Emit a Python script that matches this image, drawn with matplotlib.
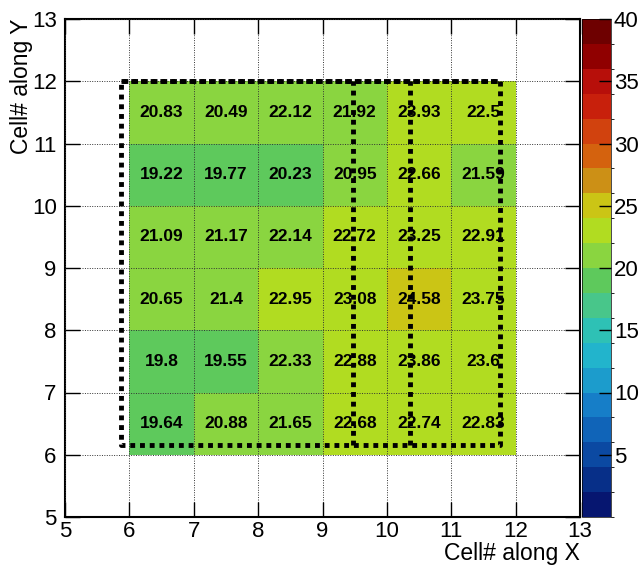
import matplotlib.pyplot as plt
import matplotlib.colors as mcolors
import matplotlib.cm as cm
import numpy as np

plt.rcParams['font.family'] = ['Liberation Sans', 'DejaVu Sans']

# cell centres along x (columns) and y (rows, bottom to top)
x_cells = [6, 7, 8, 9, 10, 11]
y_cells = [6, 7, 8, 9, 10, 11]

# values per row, bottom row (y=6) first
row_6 = [19.64, 20.88, 21.65, 22.68, 22.74, 22.83]
row_7 = [19.8, 19.55, 22.33, 22.88, 23.86, 23.6]
row_8 = [20.65, 21.4, 22.95, 23.08, 24.58, 23.75]
row_9 = [21.09, 21.17, 22.14, 22.72, 23.25, 22.91]
row_10 = [19.22, 19.77, 20.23, 20.95, 22.66, 21.59]
row_11 = [20.83, 20.49, 22.12, 21.92, 23.93, 22.5]

# palette bands from 0 to 40, bottom to top
band_colors = ["#061670", "#072f88", "#0b49a2", "#1064b8", "#167ec8",
               "#1c9ccc", "#22b4cc", "#2ec1b5", "#48c68a", "#5ec95c",
               "#8ad540", "#b1dc21", "#cbc515", "#cc9016", "#d4620e",
               "#d1420e", "#c8200c", "#b70f0a", "#900000", "#6e0000"]
z_min, z_max = 0, 40
cbar_ticks = [5, 10, 15, 20, 25, 30, 35, 40]

# dotted outline: x-left, x-right, y-bottom, y-top, inner verticals
box_x = [5.87, 11.75]
box_y = [6.15, 12.0]
inner_x = [9.47, 10.36]

z = np.array([row_6, row_7, row_8, row_9, row_10, row_11])

fig = plt.figure(figsize=(6.39, 5.65), dpi=100)
ax = fig.add_axes([65/639, 48/565, 515/639, 498/565])
cax = fig.add_axes([582/639, 48/565, 29/639, 498/565])

cmap = mcolors.ListedColormap(band_colors)
bounds = np.linspace(z_min, z_max, len(band_colors) + 1)
norm = mcolors.BoundaryNorm(bounds, cmap.N)
# colours in the picture sit about 0.4 above the printed values
cell_norm = mcolors.BoundaryNorm(bounds + 0.4, cmap.N)

xe = np.arange(x_cells[0], x_cells[-1] + 2)
ye = np.arange(y_cells[0], y_cells[-1] + 2)
ax.pcolormesh(xe, ye, z, cmap=cmap, norm=cell_norm, zorder=1)

for j, yv in enumerate(y_cells):
    for i, xv in enumerate(x_cells):
        ax.text(xv + 0.5, yv + 0.5, f"{z[j, i]:g}", ha="center", va="center",
                fontsize=12.5, fontweight="bold", zorder=4)

ax.set_xlim(5, 13)
ax.set_ylim(5, 13)
ax.set_xticks(range(5, 14))
ax.set_yticks(range(5, 14))
ax.grid(True, color="#333333", linestyle=(0, (1, 1.5)), linewidth=0.7, zorder=2)
ax.set_axisbelow(False)
ax.tick_params(direction="in", length=11, width=1, top=True, right=True,
               labelsize=16)
ax.tick_params(axis="x", pad=3)
ax.tick_params(axis="y", pad=6)
for s in ax.spines.values():
    s.set_linewidth(1.5)

dot = (0, (1, 1))
ax.plot([box_x[0], box_x[1], box_x[1], box_x[0], box_x[0]],
        [box_y[1], box_y[1], box_y[0], box_y[0], box_y[1]],
        color="black", linewidth=3.5, linestyle=dot, zorder=3)
ax.plot([box_x[0], box_x[1]], [box_y[1], box_y[1]], color="black",
        linewidth=3.5, linestyle=(1.6, (1, 1)), zorder=3)
for xv in inner_x:
    ax.plot([xv, xv], box_y, color="black", linewidth=3.5, linestyle=dot, zorder=3)

ax.set_xlabel("Cell# along X", fontsize=16.5, loc="right", labelpad=0)
ax.set_ylabel("Cell# along Y", fontsize=16.5, loc="top", labelpad=-1)

sm = cm.ScalarMappable(norm=norm, cmap=cmap)
cb = fig.colorbar(sm, cax=cax, ticks=cbar_ticks)
cb.outline.set_linewidth(0.5)
cax.tick_params(direction="in", length=9, width=1, labelsize=16, pad=2)
cax.set_yticklabels([str(t) for t in cbar_ticks])

fig.savefig("out.png", dpi=100)
